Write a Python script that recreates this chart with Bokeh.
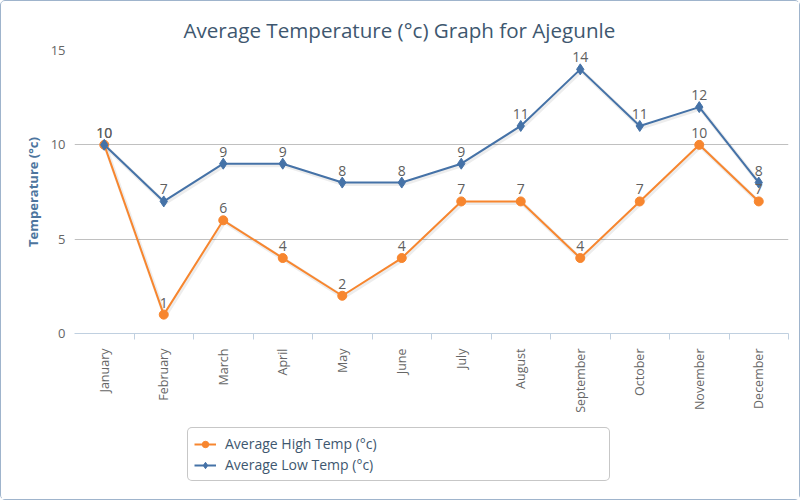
from bokeh.plotting import figure
from bokeh.layouts import column
from bokeh.models import (FixedTicker, Legend, LegendItem, ColumnDataSource, Range1d)
from bokeh.core.properties import value
from bokeh.embed import file_html
from bokeh.resources import INLINE

months = ["January", "February", "March", "April", "May", "June", "July",
          "August", "September", "October", "November", "December"]
high_temp = [10, 1, 6, 4, 2, 4, 7, 7, 4, 7, 10, 7]
low_temp = [10, 7, 9, 9, 8, 8, 9, 11, 14, 11, 12, 8]
y_ticks = [0, 5, 10, 15]
series_names = ["Average High Temp (°c)", "Average Low Temp (°c)"]

FONT = "Open Sans"
ORANGE = "#F7862F"
BLUE = "#4572A7"

xs = [i + 0.5 for i in range(len(months))]
src = ColumnDataSource(dict(
    x=xs, high=high_temp, low=low_temp,
    high_lbl=[str(v) for v in high_temp],
    low_lbl=[str(v) for v in low_temp],
))

p = figure(width=798, height=420, output_backend="svg", toolbar_location=None,
           x_range=Range1d(0, len(months)), y_range=Range1d(0, 15),
           min_border_left=73, min_border_right=11, min_border_top=49,
           min_border_bottom=88)

p.title.text = "Average Temperature (°c) Graph for Ajegunle"
p.title.align = "left"
p.title.text_font = FONT
p.title.text_font_size = "20.6px"
p.title.text_font_style = "normal"
p.title.text_color = "#3E576F"
p.title.offset = 109
p.title.standoff = 14

p.outline_line_color = None
p.background_fill_color = "white"
p.border_fill_color = "white"

# x axis
xa = p.xaxis[0]
xa.ticker = FixedTicker(ticks=xs, minor_ticks=list(range(1, len(months) + 1)))
xa.major_label_overrides = {x: m for x, m in zip(xs, months)}
xa.major_tick_line_color = None
xa.minor_tick_in = 0
xa.minor_tick_out = 6
xa.minor_tick_line_color = "#C0D0E0"
xa.axis_line_color = "#C0D0E0"
xa.major_label_orientation = 3.14159 / 2
xa.major_label_text_font = FONT
xa.major_label_text_font_size = "12.5px"
xa.major_label_text_color = "#666666"
xa.major_label_standoff = 9

# y axis
ya = p.yaxis[0]
ya.ticker = FixedTicker(ticks=y_ticks)
ya.axis_line_color = None
ya.major_tick_line_color = None
ya.minor_tick_line_color = None
ya.major_label_text_font = FONT
ya.major_label_text_font_size = "13px"
ya.major_label_text_color = "#666666"
ya.major_label_standoff = 3
ya.axis_label = "Temperature (°c)"
ya.axis_label_text_font = FONT
ya.axis_label_text_font_size = "13px"
ya.axis_label_text_font_style = "bold"
ya.axis_label_text_color = "#4d759e"
ya.axis_label_standoff = 6

p.xgrid.grid_line_color = None
p.ygrid.ticker = FixedTicker(ticks=y_ticks)
p.ygrid.grid_line_color = "#C0C0C0"
p.ygrid.grid_line_width = 1

# faint shadows
p.line(x=[x + 0.02 for x in xs], y=[v - 0.08 for v in high_temp], line_color="#000000",
       line_alpha=0.07, line_width=4)
p.line(x=[x + 0.02 for x in xs], y=[v - 0.08 for v in low_temp], line_color="#000000",
       line_alpha=0.07, line_width=4)

p.line("x", "high", source=src, line_color=ORANGE, line_width=2)
p.scatter("x", "high", source=src, marker="circle", size=9, fill_color=ORANGE,
          line_color=ORANGE)
p.line("x", "low", source=src, line_color=BLUE, line_width=2)
p.scatter("x", "low", source=src, marker="diamond", size=11, fill_color=BLUE,
          line_color=BLUE)

p.text("x", "high", text="high_lbl", source=src, text_align="center",
       text_baseline="bottom", y_offset=-7, text_font=value(FONT),
       text_font_size="14px", text_color="#606060")
p.text("x", "low", text="low_lbl", source=src, text_align="center",
       text_baseline="bottom", y_offset=-7, text_font=value(FONT),
       text_font_size="14px", text_color="#606060")

# legend strip below the chart (its renderers use the same data, kept out of view)
q = figure(width=798, height=78, output_backend="svg", toolbar_location=None,
           x_range=Range1d(100, 101), y_range=Range1d(100, 101),
           x_axis_type=None, y_axis_type=None,
           min_border_left=0, min_border_right=0, min_border_top=0,
           min_border_bottom=0)
q.outline_line_color = None
q.xgrid.grid_line_color = None
q.ygrid.grid_line_color = None
q.border_fill_color = "white"
q.background_fill_color = "white"

ghl = q.line("x", "high", source=src, line_color=ORANGE, line_width=2)
ghs = q.scatter("x", "high", source=src, marker="circle", size=9, fill_color=ORANGE,
                line_color=ORANGE)
gll = q.line("x", "low", source=src, line_color=BLUE, line_width=2)
gls = q.scatter("x", "low", source=src, marker="diamond", size=11, fill_color=BLUE,
                line_color=BLUE)

legend = Legend(items=[
    LegendItem(label=series_names[0], renderers=[ghl, ghs]),
    LegendItem(label=series_names[1], renderers=[gll, gls]),
], location=(113, 18), orientation="vertical")
legend.label_text_font = FONT
legend.label_text_font_size = "14px"
legend.label_text_color = "#3E576F"
legend.label_width = 378
legend.label_height = 16
legend.glyph_height = 16
legend.glyph_width = 22
legend.label_standoff = 9
legend.spacing = 2
legend.padding = 6
legend.margin = 0
legend.border_line_color = "#909090"
legend.border_line_width = 1
legend.border_radius = 5
legend.background_fill_alpha = 1
q.add_layout(legend, "center")

layout = column(p, q, spacing=0,
                styles={"border": "1px solid #9fb4cc", "border-radius": "5px",
                        "background-color": "white"})

open("out.html", "w").write(file_html(layout, INLINE))
